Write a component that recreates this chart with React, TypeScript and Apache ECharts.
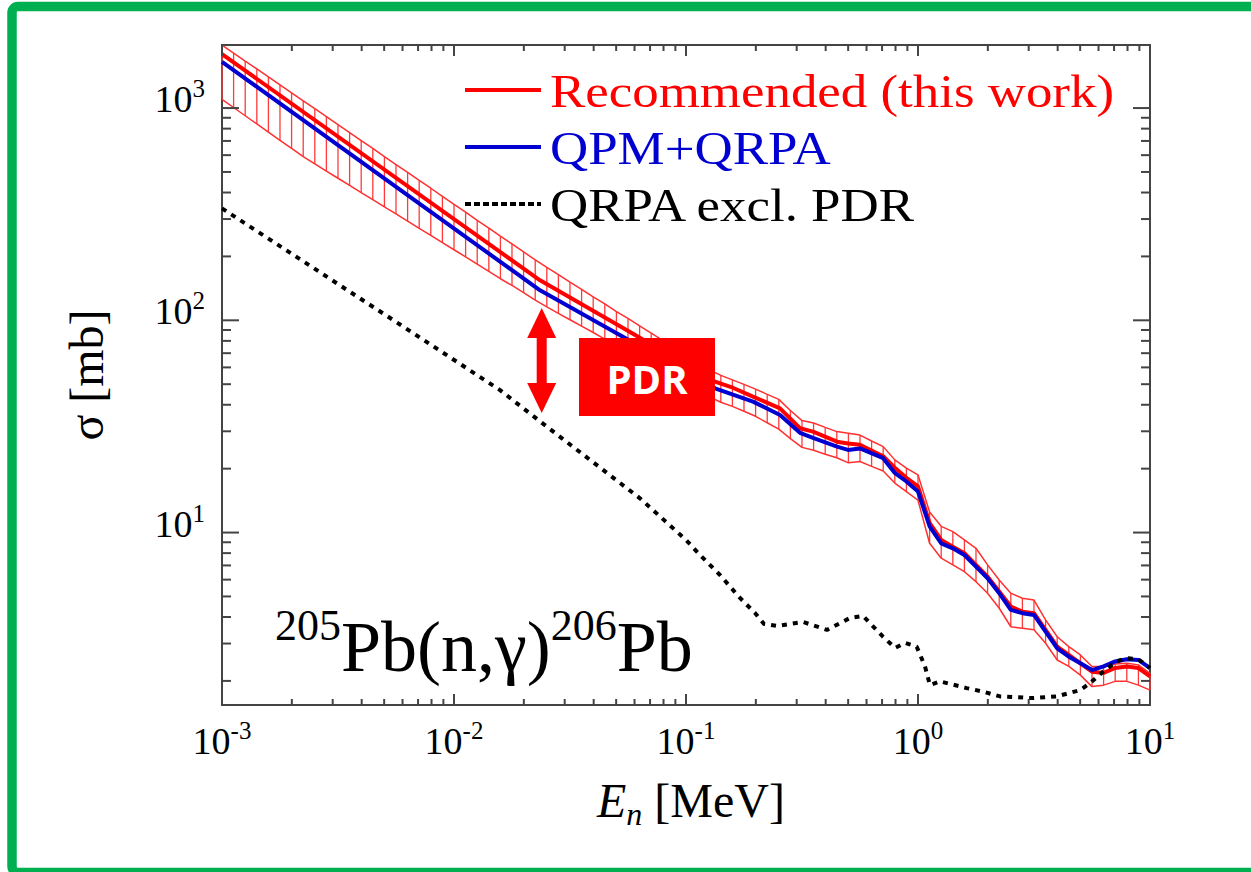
import React, { useEffect, useRef } from "react";
import * as echarts from "echarts";

// ---------- data ----------
const bandMantissa = [1, 1.122, 1.259, 1.413, 1.585, 1.778, 1.995, 2.239, 2.512, 2.818, 3.162, 3.548, 3.981, 4.467, 5.012, 5.623, 6.31, 7.079, 7.943, 8.913];
const bandDecades = [0.001, 0.01, 0.1, 1];
const bandLast = 10;
const bandUpper = [
  1980, 1816, 1666, 1529, 1402, 1286, 1180, 1082, 993, 911, 835, 766, 703, 645, 591, 542, 498, 456, 419, 384,
  352, 323, 296, 272, 249, 229, 210, 192.5, 177.5, 164, 151.5, 140, 129, 119.5, 110, 102, 94.2, 87.0, 80.4, 74.3,
  68.6, 63.4, 58.6, 55.0, 52.4, 49.9, 47.4, 44.8, 42.4, 37.6, 33.7, 32.8, 31.3, 29.9, 29.4, 28.8, 27.0, 25.4, 22.0, 20.1,
  18.7, 12.5, 10.7, 10.1, 9.23, 8.43, 7.04, 5.98, 5.18, 4.9, 4.81, 3.88, 3.23, 2.9, 2.65, 2.34, 2.34, 2.4, 2.42, 2.38,
  2.17,
];
const bandLower = [
  1099, 1006, 920, 842, 770, 704, 645, 590, 546, 505, 467, 432, 400, 370, 342, 317, 293, 271, 251, 232,
  215, 199, 184, 170, 157, 146, 135, 124.5, 115.6, 107.9, 100.6, 93.9, 87.6, 81.6, 76.2, 71.1, 66.3, 61.8, 57.6, 53.8,
  50.2, 46.8, 43.7, 41.1, 39.3, 37.3, 35.3, 32.9, 30.7, 27.7, 25.2, 24.4, 23.4, 22.5, 21.3, 21.6, 20.5, 19.5, 17.1, 15.6,
  14.2, 8.9, 7.57, 7.04, 6.54, 5.87, 5.18, 4.4, 3.6, 3.54, 3.48, 3.01, 2.51, 2.34, 2.13, 1.88, 1.91, 1.99, 1.99, 1.91,
  1.81,
];

const recE = [0.001, 0.02349, 0.05736, 0.1334, 0.16, 0.1944, 0.2542, 0.3099, 0.3527, 0.4477, 0.4993, 0.5623, 0.7079, 0.7943, 0.8913, 1.0, 1.122, 1.259, 1.413, 1.585, 1.778, 1.995, 2.239, 2.512, 2.818, 3.162, 3.548, 3.981, 4.467, 5.012, 5.623, 6.31, 7.079, 7.943, 8.913, 10];
const recSigma = [1796, 154.3, 88.1, 51.4, 48.0, 43.7, 38.5, 31.0, 29.9, 26.8, 26.3, 25.9, 22.9, 20.2, 18.1, 16.5, 11.1, 9.23, 8.58, 7.99, 7.04, 6.2, 5.27, 4.48, 4.24, 4.17, 3.48, 2.9, 2.65, 2.42, 2.21, 2.18, 2.3, 2.34, 2.3, 2.1];

const qpmE = [0.001, 0.02349, 0.05736, 0.1334, 0.1944, 0.2542, 0.3099, 0.3527, 0.4477, 0.4993, 0.5623, 0.7079, 0.7943, 0.8913, 1.0, 1.122, 1.259, 1.413, 1.585, 1.778, 1.995, 2.239, 2.512, 2.818, 3.162, 3.548, 3.981, 4.467, 5.012, 5.623, 6.31, 7.079, 7.943, 8.913, 10];
const qpmSigma = [1652, 138.4, 80.2, 47.8, 41.4, 35.8, 29.5, 27.9, 25.4, 24.5, 24.9, 22.4, 19.1, 17.4, 15.6, 10.7, 8.9, 8.43, 7.84, 6.91, 6.09, 5.18, 4.32, 4.17, 4.09, 3.41, 2.85, 2.6, 2.42, 2.25, 2.34, 2.47, 2.53, 2.51, 2.3];

const exclE = [0.001, 0.00605, 0.01579, 0.02426, 0.0633, 0.1, 0.1149, 0.1401, 0.1709, 0.1983, 0.2169, 0.2467, 0.3193, 0.4053, 0.5092, 0.5792, 0.7065, 0.7961, 0.879, 0.9872, 1.072, 1.126, 1.244, 1.621, 1.906, 2.256, 3.131, 3.962, 4.992, 5.511, 6.272, 7.186, 7.935, 8.905, 10];
const exclSigma = [337, 93.3, 46.9, 32.5, 14.5, 9.23, 7.84, 6.31, 4.92, 4.18, 3.71, 3.63, 3.79, 3.48, 3.96, 4.05, 3.23, 2.86, 3.02, 2.9, 2.34, 1.91, 1.99, 1.85, 1.78, 1.69, 1.66, 1.69, 1.81, 1.95, 2.21, 2.47, 2.56, 2.53, 2.3];

const X_MIN = 0.001;
const X_MAX = 10;
const Y_MIN = 1.54;
const Y_MAX = 1982;
const xMajorTicks = [0.001, 0.01, 0.1, 1, 10];
const yMajorTicks = [10, 100, 1000];
const minorMantissa = [2, 3, 4, 5, 6, 7, 8, 9];
const xMinorDecades = [0.001, 0.01, 0.1, 1];
const yMinorDecades = [1, 10, 100];
const xLabelExponents = [-3, -2, -1, 0, 1];
const yLabelExponents = [1, 2, 3];
const legendNames = ["Recommended (this work)", "QPM+QRPA", "QRPA excl. PDR"];
const xTitle = ["E", "n", " [MeV]"];
const yTitle = "σ [mb]";
const reaction = ["205", "Pb(n,γ)", "206", "Pb"];
const pdrLabel = "PDR";

// ---------- derived tables ----------
const bandE = bandDecades.flatMap((d) => bandMantissa.map((m) => m * d)).concat([bandLast]);
const xMinorTicks = xMinorDecades.flatMap((d) => minorMantissa.map((m) => m * d));
const yMinorTicks = yMinorDecades.flatMap((d) => minorMantissa.map((m) => m * d)).filter((v) => v > Y_MIN && v < Y_MAX);

const serif = "'Liberation Serif', 'Times New Roman', serif";
const AXIS = "#444444";
const RED = "#ff0000";
const BLUE = "#0000d0";

function expOf(v: number, list: number[]): number | null {
  const l = Math.log10(v);
  const e = Math.round(l);
  if (Math.abs(l - e) > 1e-6) return null;
  return list.indexOf(e) >= 0 ? e : null;
}

const labelRich = {
  b: { fontSize: 38, lineHeight: 42, fontFamily: serif, color: "#000", verticalAlign: "bottom" },
  s: { fontSize: 25, lineHeight: 20, fontFamily: serif, color: "#000", verticalAlign: "top" },
};

function tickSeries(values: number[], dir: "x" | "y", len: number) {
  return {
    type: "custom",
    coordinateSystem: "cartesian2d",
    silent: true,
    z: 20,
    data: values.map((v) => (dir === "x" ? [v, Y_MIN] : [X_MIN, v])),
    encode: { x: 0, y: 1 },
    renderItem: (params: any, api: any) => {
      const cs = params.coordSys;
      const p = api.coord([api.value(0), api.value(1)]);
      const st = { stroke: AXIS, lineWidth: 2 };
      if (dir === "x") {
        const x = p[0];
        const top = cs.y;
        const bot = cs.y + cs.height;
        return {
          type: "group",
          children: [
            { type: "line", shape: { x1: x, y1: bot, x2: x, y2: bot - len }, style: st },
            { type: "line", shape: { x1: x, y1: top, x2: x, y2: top + len }, style: st },
          ],
        };
      }
      const y = p[1];
      const l = cs.x;
      const r = cs.x + cs.width;
      return {
        type: "group",
        children: [
          { type: "line", shape: { x1: l, y1: y, x2: l + len, y2: y }, style: st },
          { type: "line", shape: { x1: r, y1: y, x2: r - len, y2: y }, style: st },
        ],
      };
    },
  };
}

function buildOption(): any {
  const hatch = {
    type: "custom",
    coordinateSystem: "cartesian2d",
    silent: true,
    z: 3,
    data: bandE.map((e, i) => [e, bandUpper[i], bandLower[i]]),
    encode: { x: 0, y: [1, 2] },
    renderItem: (_p: any, api: any) => {
      const a = api.coord([api.value(0), api.value(1)]);
      const b = api.coord([api.value(0), api.value(2)]);
      return {
        type: "line",
        shape: { x1: a[0], y1: a[1], x2: b[0], y2: b[1] },
        style: { stroke: "#ff3a3a", lineWidth: 1.3 },
      };
    },
  };
  const edge = (vals: number[]) => ({
    type: "line",
    silent: true,
    z: 3,
    showSymbol: false,
    symbol: "none",
    data: bandE.map((e, i) => [e, vals[i]]),
    lineStyle: { color: "#ff3030", width: 1.5 },
  });

  return {
    animation: false,
    backgroundColor: "#ffffff",
    grid: {
      left: 222,
      top: 45,
      right: 101,
      bottom: 167,
      show: true,
      borderColor: AXIS,
      borderWidth: 2,
      backgroundColor: "transparent",
    },
    xAxis: {
      type: "log",
      logBase: 10,
      min: X_MIN,
      max: X_MAX,
      axisLine: { show: false },
      axisTick: { show: false },
      splitLine: { show: false },
      minorTick: { show: false },
      axisLabel: {
        margin: 13,
        showMinLabel: true,
        showMaxLabel: true,
        fontFamily: serif,
        formatter: (v: number) => {
          const e = expOf(v, xLabelExponents);
          return e === null ? "" : `{b|10}{s|${e}}`;
        },
        rich: labelRich,
      },
    },
    yAxis: {
      type: "log",
      logBase: 10,
      min: Y_MIN,
      max: Y_MAX,
      axisLine: { show: false },
      axisTick: { show: false },
      splitLine: { show: false },
      minorTick: { show: false },
      axisLabel: {
        margin: 17,
        padding: [0, 0, 22, 0],
        showMinLabel: false,
        showMaxLabel: false,
        fontFamily: serif,
        formatter: (v: number) => {
          const e = expOf(v, yLabelExponents);
          return e === null ? "" : `{b|10}{s|${e}}`;
        },
        rich: labelRich,
      },
    },
    series: [
      hatch,
      edge(bandUpper),
      edge(bandLower),
      {
        type: "line",
        name: legendNames[0],
        z: 5,
        symbol: "none",
        showSymbol: false,
        data: recE.map((e, i) => [e, recSigma[i]]),
        lineStyle: { color: RED, width: 4 },
      },
      {
        type: "line",
        name: legendNames[1],
        z: 6,
        symbol: "none",
        showSymbol: false,
        data: qpmE.map((e, i) => [e, qpmSigma[i]]),
        lineStyle: { color: BLUE, width: 4 },
      },
      {
        type: "line",
        name: legendNames[2],
        z: 7,
        symbol: "none",
        showSymbol: false,
        data: exclE.map((e, i) => [e, exclSigma[i]]),
        lineStyle: { color: "#000", width: 4, type: [5, 6] },
      },
      tickSeries(xMajorTicks, "x", 11),
      tickSeries(xMinorTicks, "x", 6),
      tickSeries(yMajorTicks, "y", 17),
      tickSeries(yMinorTicks, "y", 9),
    ],
    graphic: [
      // green frame
      {
        type: "rect",
        z: 0,
        silent: true,
        shape: { x: 12, y: 6.5, width: 1252, height: 866, r: 6 },
        style: { fill: "none", stroke: "#00b050", lineWidth: 9.5 },
      },
      // legend
      { type: "line", z: 50, shape: { x1: 465, y1: 90, x2: 541, y2: 90 }, style: { stroke: RED, lineWidth: 4 } },
      { type: "line", z: 50, shape: { x1: 465, y1: 147, x2: 541, y2: 147 }, style: { stroke: BLUE, lineWidth: 4 } },
      { type: "line", z: 50, shape: { x1: 465, y1: 204, x2: 541, y2: 204 }, style: { stroke: "#000", lineWidth: 4, lineDash: [6, 3] } },
      {
        type: "text", z: 50, x: 550, y: 92, scaleX: 1.15,
        style: { text: legendNames[0], fontSize: 46, fontFamily: serif, fill: RED, align: "left", verticalAlign: "middle" },
      },
      {
        type: "text", z: 50, x: 550, y: 149, scaleX: 1.15,
        style: { text: legendNames[1], fontSize: 46, fontFamily: serif, fill: BLUE, align: "left", verticalAlign: "middle" },
      },
      {
        type: "text", z: 50, x: 550, y: 206, scaleX: 1.15,
        style: { text: legendNames[2], fontSize: 46, fontFamily: serif, fill: "#000", align: "left", verticalAlign: "middle" },
      },
      // PDR arrow
      {
        type: "polygon",
        z: 60,
        shape: {
          points: [
            [541.7, 308], [556.2, 338], [546.7, 338], [546.7, 383], [556.2, 383],
            [541.7, 413], [527.2, 383], [536.7, 383], [536.7, 338], [527.2, 338],
          ],
        },
        style: { fill: RED },
      },
      // PDR box
      { type: "rect", z: 60, shape: { x: 579, y: 338, width: 136, height: 78 }, style: { fill: RED } },
      {
        type: "text", z: 61, x: 647, y: 378,
        style: { text: pdrLabel, fontSize: 40, fontWeight: "bold", fontFamily: "'Open Sans', 'Noto Sans', sans-serif", fill: "#ffffff", align: "center", verticalAlign: "middle" },
      },
      // axis titles
      {
        type: "text", z: 50, x: 86, y: 375, rotation: Math.PI / 2,
        style: { text: yTitle, fontSize: 48, fontFamily: serif, fill: "#000", align: "center", verticalAlign: "middle" },
      },
      {
        type: "text", z: 50, x: 691, y: 800,
        style: {
          text: `{i|${xTitle[0]}}{sub|${xTitle[1]}}{r|${xTitle[2]}}`,
          align: "center",
          verticalAlign: "middle",
          rich: {
            i: { fontSize: 48, fontFamily: serif, fontStyle: "italic", lineHeight: 60, fill: "#000" },
            sub: { fontSize: 32, fontFamily: serif, fontStyle: "italic", lineHeight: 32, verticalAlign: "bottom", fill: "#000" },
            r: { fontSize: 48, fontFamily: serif, lineHeight: 60, fill: "#000" },
          },
        },
      },
      // reaction label
      {
        type: "text", z: 50, x: 275, y: 603,
        style: {
          text: `{s|${reaction[0]}}{b|${reaction[1]}}{s|${reaction[2]}}{b|${reaction[3]}}`,
          align: "left",
          verticalAlign: "top",
          rich: {
            s: { fontSize: 44, lineHeight: 36, fontFamily: serif, verticalAlign: "top", fill: "#000" },
            b: { fontSize: 72, lineHeight: 80, fontFamily: serif, verticalAlign: "bottom", fill: "#000" },
          },
        },
      },
    ],
  };
}

export default function App() {
  const ref = useRef<HTMLDivElement>(null);
  useEffect(() => {
    if (!ref.current) return;
    const chart = echarts.init(ref.current, null, { renderer: "svg" });
    chart.setOption(buildOption());
    return () => chart.dispose();
  }, []);
  return (
    <div
      ref={ref}
      style={{ position: "absolute", left: 0, top: 0, width: 1251, height: 872, background: "#ffffff" }}
    />
  );
}
